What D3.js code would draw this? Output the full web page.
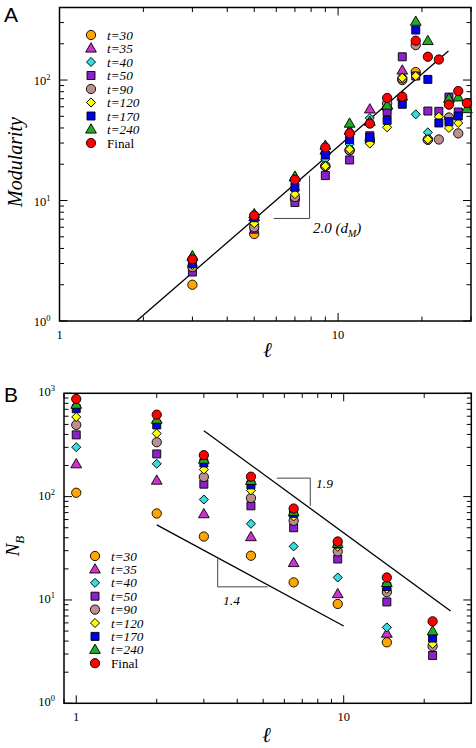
<!DOCTYPE html>
<html><head><meta charset="utf-8">
<script src="https://cdn.jsdelivr.net/npm/d3@7"></script>
<style>body{margin:0;background:#fff}svg{display:block}</style>
</head><body>
<svg id="c" width="476" height="748"></svg>
<script>
// ---------- DATA ----------
const seriesNames = ["t=30","t=35","t=40","t=50","t=90","t=120","t=170","t=240","Final"];
const seriesColors = ["#FFA500","#CC33CC","#33DDE0","#8B22C8","#BC8F8F","#FFFF00","#0000EE","#22AA22","#FF0000"];
const seriesShapes = ["circle","triangle","diamond","square","circle","diamond","square","triangle","circle"];

// Panel A: Modularity vs l
const lA = [3,5,7,9,11,13,15,17,19,21,23,25,27,29];
const modT30  = [2.0, 5.27,10.3,19.3,26.0,31.0,58.0,100, 116.5,32.0,null,null,null,null];
const modT35  = [3.4, 7.3, 15.5,26.0,38.0,57.1,62.0,120, null, null,null,null,null,null];
const modT40  = [2.9, 6.3, 12.2,22.0,29.4,48.4,58.0,104, 51.9,36.8,null,null,null,null];
const modT50  = [2.55,5.79,9.63,16.1,21.7,34.5,54.6,156, 108, 55.3,55.0,72.2,54.3,null];
const modT90  = [2.8, 6.0, 10.7,19.3,26.2,32.0,64.0,103, 195, 32.0,32.1,48.9,36.1,null];
const modT120 = [2.92,6.47,11.3,19.3,26.6,29.7,40.5,104.5,108,32.2,49.6,40.0,44.0,null];
const modT170 = [3.0, 7.2, 12.9,23.9,32.1,33.5,46.3,62.9,260, 101.3,44.0,45.1,50.3,null];
const modT240 = [3.45,7.7, 15.8,28.5,43.5,45.0,61.4,73.0,305, 211, null,70.0,71.8,57.4];
const modFinal= [3.25,7.51,14.9,27.6,36.1,43.5,71.0,72.7,212, 156, 148, 62.4,81.0,64.4];
const modSeries = [modT30,modT35,modT40,modT50,modT90,modT120,modT170,modT240,modFinal];

// Panel B: N_B vs l
const lB = [1,2,3,4.5,6.5,9.5,14.5,21.5];
const nbT30  = [109,68.7,41.1,26.8,14.8,9.15,3.89,null];
const nbT35  = [206,143,67.7,40.6,22.8,11.4,4.72,null];
const nbT40  = [301,208,93.8,54.6,33.0,16.5,5.43,null];
const nbT50  = [396,259,132,81.5,50.0,24.9,9.57,2.90];
const nbT90  = [494,336,155,96.9,58.4,29.5,11.9,3.56];
const nbT120 = [590,408,183,115,64.3,32.7,12.8,3.76];
const nbT170 = [710,494,212,130,69.0,34.7,13.5,4.28];
const nbT240 = [776,556,228,142,71.3,35.0,14.6,4.97];
const nbFinal= [881,621,252,156,76.7,36.8,16.5,6.21];
const nbSeries = [nbT30,nbT35,nbT40,nbT50,nbT90,nbT120,nbT170,nbT240,nbFinal];

// Fit lines (endpoints of power-law guides)
const fitA = [[1.891,1.0],[24.9,174]];          // slope 2.0
const fitB19 = [[3.0,435],[25.1,7.83]];          // slope 1.9
const fitB14 = [[2.0,53.3],[10.0,5.6]];          // slope 1.4

// ---------- DRAW ----------
const svg = d3.select("#c");
const serif = "'Liberation Serif','Times New Roman',serif";
const sans = "'Liberation Sans',Arial,sans-serif";

function symbolPath(shape){
  if(shape==="circle") return d3.symbol(d3.symbolCircle, 68)();
  if(shape==="triangle") return d3.symbol(d3.symbolTriangle, 50)();
  if(shape==="square") return d3.symbol(d3.symbolSquare, 64)();
  if(shape==="diamond") return d3.symbol(d3.symbolSquare, 41)();
}
function drawMarker(g, shape, color, x, y){
  g.append("path").attr("d", symbolPath(shape))
    .attr("transform", `translate(${x},${y})` + (shape==="diamond"?" rotate(45)":"") + (shape==="triangle"?" translate(0,0.5)":""))
    .attr("fill", color).attr("stroke","#000").attr("stroke-width",0.9);
}

function logTicks(lo, hi){
  const out=[];
  for(let e=Math.floor(Math.log10(lo)); e<=Math.ceil(Math.log10(hi)); e++){
    for(let m=1;m<=9;m++){ const v=m*Math.pow(10,e); if(v>=lo*0.999 && v<=hi*1.001) out.push(v); }
  }
  return out;
}

function panel(cfg){
  const g = svg.append("g");
  const x = d3.scaleLog().domain(cfg.xd).range([cfg.L, cfg.R]);
  const y = d3.scaleLog().domain(cfg.yd).range([cfg.B, cfg.T]);
  const isMajor = v => Math.abs(Math.log10(v) - Math.round(Math.log10(v)))<1e-6;
  const xt = logTicks(cfg.xd[0], cfg.xd[1]);
  const yt = logTicks(cfg.yd[0], cfg.yd[1]);
  const tk = g.append("g").attr("stroke","#000").attr("stroke-width",1);
  xt.forEach(v=>{
    const len = isMajor(v)?8:4.5, px=x(v);
    tk.append("line").attr("x1",px).attr("x2",px).attr("y1",cfg.B).attr("y2",cfg.B-len);
    tk.append("line").attr("x1",px).attr("x2",px).attr("y1",cfg.T).attr("y2",cfg.T+len);
  });
  yt.forEach(v=>{
    const len = isMajor(v)?8:4.5, py=y(v);
    tk.append("line").attr("y1",py).attr("y2",py).attr("x1",cfg.L).attr("x2",cfg.L+len);
    tk.append("line").attr("y1",py).attr("y2",py).attr("x1",cfg.R).attr("x2",cfg.R-len);
  });
  // frame
  g.append("rect").attr("x",cfg.L).attr("y",cfg.T).attr("width",cfg.R-cfg.L).attr("height",cfg.B-cfg.T)
    .attr("fill","none").attr("stroke","#000").attr("stroke-width",1.5);
  // x tick labels
  cfg.xLabels.forEach(v=>{
    g.append("text").attr("x",x(v)).attr("y",cfg.B+cfg.xlabDy).attr("text-anchor","middle")
      .attr("font-family",serif).attr("font-size",12.5).text(String(v));
  });
  // y tick labels 10^k
  cfg.yLabels.forEach(v=>{
    const e = Math.round(Math.log10(v));
    const t = g.append("text").attr("x",cfg.L-9).attr("y",y(v)+cfg.ylabDy).attr("text-anchor","end")
      .attr("font-family",serif).attr("font-size",12.5);
    t.append("tspan").text("10");
    t.append("tspan").attr("font-size",8.5).attr("dy",-5).text(String(e));
  });
  // guides
  cfg.fits.forEach(f=>{
    g.append("line").attr("x1",x(f[0][0])).attr("y1",y(f[0][1])).attr("x2",x(f[1][0])).attr("y2",y(f[1][1]))
      .attr("stroke","#000").attr("stroke-width",1.3);
  });
  cfg.tris.forEach(tr=>{
    g.append("path").attr("d", d3.line()(tr.map(p=>[x(p[0]),y(p[1])])))
      .attr("fill","none").attr("stroke","#444").attr("stroke-width",1);
  });
  // data
  const dg = g.append("g");
  cfg.series.forEach((s,i)=>{
    s.forEach((v,j)=>{ if(v!=null) drawMarker(dg, seriesShapes[i], seriesColors[i], x(cfg.xs[j]), y(v)); });
  });
  // legend
  seriesNames.forEach((n,i)=>{
    const yy = cfg.legY + i*cfg.legStep;
    drawMarker(g, seriesShapes[i], seriesColors[i], cfg.legX, yy);
    g.append("text").attr("x",cfg.legX+16).attr("y",yy+4.5).attr("font-family",serif).attr("font-size",13.2)
      .attr("font-style", n==="Final"?"normal":"italic").text(n);
  });
  return {g,x,y};
}

// Panel A
const A = panel({
  L:59.5, R:471, T:7.5, B:321, xd:[1,30], yd:[1,400],
  xLabels:[1,10], yLabels:[1,10,100], xlabDy:18, ylabDy:5,
  fits:[fitA], tris:[[[5.87,7.1],[7.9,7.1],[7.9,16.1]]],
  xs:lA, series:modSeries, legX:91, legY:35, legStep:13.5
});
// Panel B
const B = panel({
  L:64, R:471.3, T:393.3, B:703.3, xd:[0.9,30], yd:[1,1000],
  xLabels:[1,10], yLabels:[1,10,100,1000], xlabDy:18, ylabDy:3,
  fits:[fitB19, fitB14], tris:[[[5.62,151],[7.5,151],[7.5,81.5]],[[3.38,25.1],[3.38,13.4],[5.2,13.4]]],
  xs:lB, series:nbSeries, legX:95, legY:556, legStep:13.4
});

// Annotations
const ann = svg.append("g").attr("font-family",serif).attr("font-style","italic");
const t20 = ann.append("text").attr("x",313).attr("y",233).attr("font-size",15);
t20.append("tspan").text("2.0 (d");
t20.append("tspan").attr("font-size",10).attr("dy",4).text("M");
t20.append("tspan").attr("dy",-4).text(")");
ann.append("text").attr("x",316).attr("y",488).attr("font-size",13.5).text("1.9");
ann.append("text").attr("x",223).attr("y",605).attr("font-size",13.5).text("1.4");

// Axis titles
svg.append("text").attr("transform","translate(22,162) rotate(-90)").attr("text-anchor","middle")
  .attr("font-family",serif).attr("font-style","italic").attr("font-size",20).text("Modularity");
const nb = svg.append("text").attr("transform","translate(19,546) rotate(-90)").attr("text-anchor","middle")
  .attr("font-family",serif).attr("font-style","italic").attr("font-size",19);
nb.append("tspan").text("N");
nb.append("tspan").attr("font-size",13).attr("dy",5).text("B");
svg.append("text").attr("x",268).attr("y",357).attr("text-anchor","middle")
  .attr("font-family","'DejaVu Serif',serif").attr("font-style","italic").attr("font-weight","bold").attr("font-size",21).text("ℓ");
svg.append("text").attr("x",267).attr("y",742).attr("text-anchor","middle")
  .attr("font-family","'DejaVu Serif',serif").attr("font-style","italic").attr("font-weight","bold").attr("font-size",21).text("ℓ");

// Panel letters
svg.append("text").attr("x",4).attr("y",22).attr("font-family",sans).attr("font-size",21).text("A");
svg.append("text").attr("x",4).attr("y",402).attr("font-family",sans).attr("font-size",21).text("B");
</script>
</body></html>
